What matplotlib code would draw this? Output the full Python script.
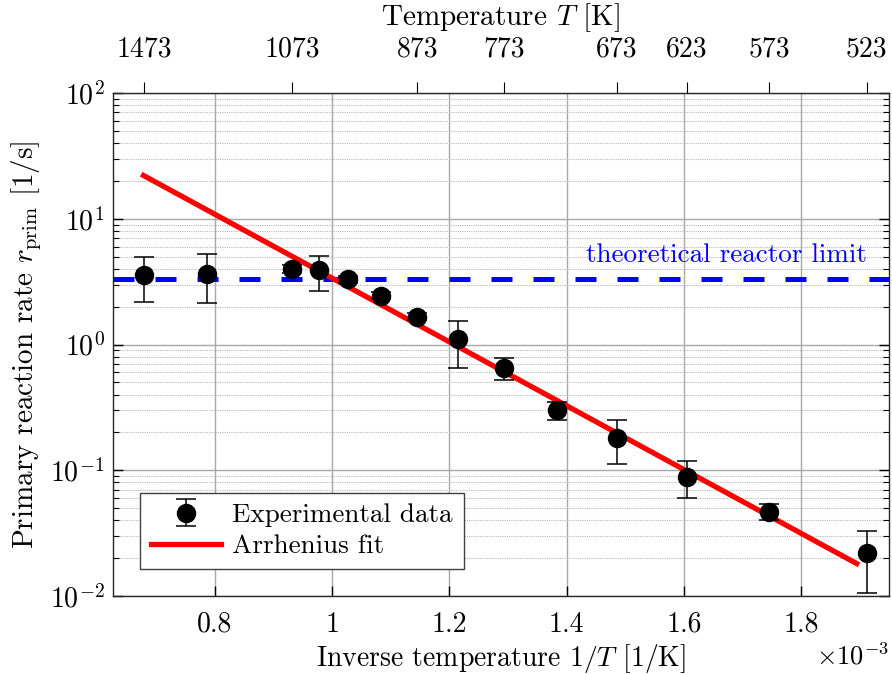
import matplotlib
matplotlib.use("Agg")
import matplotlib.pyplot as plt
import numpy as np
from matplotlib.ticker import LogLocator, NullFormatter

plt.rcParams['font.family'] = 'serif'
plt.rcParams['font.serif'] = ['cmr10']
plt.rcParams['mathtext.fontset'] = 'cm'
plt.rcParams['axes.formatter.use_mathtext'] = True
plt.rcParams['axes.unicode_minus'] = False

# experimental data
temp_K = np.array([1473, 1273, 1073, 1023, 973, 923, 873, 823, 773, 723, 673, 623, 573, 523])
rate = np.array([3.54, 3.67, 4.02, 3.88, 3.29, 2.45, 1.67, 1.10, 0.656, 0.299, 0.182, 0.089, 0.047, 0.0218])
rate_err = np.array([1.38, 1.53, 0.3, 1.22, 0.2, 0.15, 0.1, 0.45, 0.13, 0.05, 0.07, 0.029, 0.007, 0.0113])
inv_T = 1000.0 / temp_K  # in 1e-3 1/K

# Arrhenius fit line end points
fit_x = [0.678, 1.895]
fit_y = [22.1, 0.0181]

reactor_limit = 3.29

top_T = [1473, 1073, 873, 773, 673, 623, 573, 523]

fig = plt.figure(figsize=(8.92, 6.74), dpi=100)
ax = fig.add_axes([0.1267, 0.1157, 0.8699, 0.7463])

ax.set_yscale('log')
ax.set_xlim(0.626, 1.95)
ax.set_ylim(1e-2, 1e2)

ax.axhline(reactor_limit, color='#0000ff', lw=3.6, dashes=(4.2, 4.2), zorder=3)
ax.plot(fit_x, fit_y, color='#ff0000', lw=3.8, zorder=4, label='Arrhenius fit')
ax.errorbar(inv_T, rate, yerr=rate_err, fmt='o', color='k', ms=13, elinewidth=1.1,
            capsize=7.5, capthick=1.1, zorder=5, label='Experimental data')

ax.text(1.912, 4.49, 'theoretical reactor limit', color='#0000ff', fontsize=19.5,
        ha='right', va='baseline', zorder=6)

ax.set_xticks([0.8, 1.0, 1.2, 1.4, 1.6, 1.8])
ax.set_xticklabels(['0.8', '1', '1.2', '1.4', '1.6', '1.8'])
ax.yaxis.set_major_locator(LogLocator(base=10, numticks=10))
ax.yaxis.set_minor_locator(LogLocator(base=10, subs=np.arange(2, 10), numticks=10))
ax.yaxis.set_minor_formatter(NullFormatter())

ax.tick_params(which='both', direction='in', labelsize=20, top=False, right=True)
ax.tick_params(which='major', length=7, width=1)
ax.tick_params(which='minor', length=4, width=0.8)
ax.tick_params(axis='x', pad=11)
ax.tick_params(axis='y', pad=6)

ax.grid(which='major', axis='both', color='#a8a8a8', lw=1.0, ls='-')
ax.grid(which='minor', axis='y', color='#b8b8b8', lw=0.8, ls=(0, (1, 1)))
ax.set_axisbelow(True)
for s in ax.spines.values():
    s.set_color('#262626')
    s.set_linewidth(1.0)

ax.set_xlabel('Inverse temperature $1/T$ [1/K]', fontsize=20, labelpad=3)
ax.set_ylabel(r'Primary reaction rate $r_\mathrm{prim}$ [1/s]', fontsize=21, labelpad=4)
ax.text(1.0, -0.093, r'$\times10^{-3}$', transform=ax.transAxes, fontsize=19,
        ha='right', va='top')

top = ax.twiny()
top.set_xlim(ax.get_xlim())
top.set_xticks([1000.0 / t for t in top_T])
top.set_xticklabels([str(t) for t in top_T])
top.tick_params(direction='out', length=8, labelsize=20, pad=14)
top.set_xlabel('Temperature $T$ [K]', fontsize=21, labelpad=8)
for s in top.spines.values():
    s.set_visible(False)

leg = ax.legend(handles=ax.get_legend_handles_labels()[0][::-1], loc='lower left',
                bbox_to_anchor=(0.035, 0.054), fontsize=19.5, fancybox=False,
                framealpha=1, edgecolor='#404040', borderpad=0.4,
                handlelength=2.6, handletextpad=0.4, labelspacing=0.25, borderaxespad=0)
leg.get_frame().set_linewidth(1.0)

fig.savefig('out.png', dpi=100)
